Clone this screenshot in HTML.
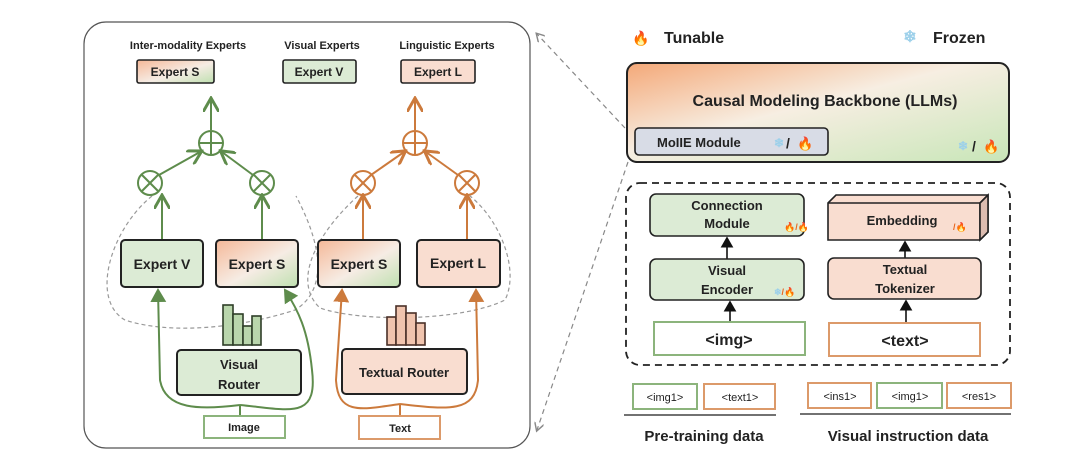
<!DOCTYPE html>
<html><head><meta charset="utf-8"><style>
html,body{margin:0;padding:0;background:#fff;width:1080px;height:460px;overflow:hidden}
svg text{font-family:"Liberation Sans",sans-serif;font-weight:bold;fill:#222}
</style></head><body>
<svg width="1080" height="460" viewBox="0 0 1080 460" xmlns="http://www.w3.org/2000/svg">
<defs>
<linearGradient id="gS" x1="0" y1="0" x2="1" y2="1"><stop offset="0" stop-color="#f5b898"/><stop offset="0.55" stop-color="#f6ece4"/><stop offset="1" stop-color="#bfe0b0"/></linearGradient>
<linearGradient id="gB" x1="0" y1="0" x2="1" y2="1"><stop offset="0" stop-color="#f4a878"/><stop offset="0.45" stop-color="#f7eee2"/><stop offset="1" stop-color="#c8e6b8"/></linearGradient>
<marker id="aG" markerWidth="8" markerHeight="8" refX="6" refY="4" orient="auto"><path d="M0,0 L7,4 L0,8" fill="none" stroke="#5e8c4c" stroke-width="1.5"/></marker>
<marker id="aO" markerWidth="8" markerHeight="8" refX="6" refY="4" orient="auto"><path d="M0,0 L7,4 L0,8" fill="none" stroke="#cc7a3c" stroke-width="1.5"/></marker>
<marker id="tG" markerWidth="8" markerHeight="8" refX="6" refY="4" orient="auto"><path d="M0,0 L7,4 L0,8 z" fill="#5e8c4c"/></marker>
<marker id="tO" markerWidth="8" markerHeight="8" refX="6" refY="4" orient="auto"><path d="M0,0 L7,4 L0,8 z" fill="#cc7a3c"/></marker>
<marker id="tK" markerWidth="8" markerHeight="8" refX="6" refY="4" orient="auto"><path d="M0,0 L7,4 L0,8 z" fill="#111"/></marker>
<marker id="aD" markerWidth="8" markerHeight="8" refX="6" refY="4" orient="auto"><path d="M0,0 L7,4 L0,8" fill="none" stroke="#888" stroke-width="1.2"/></marker>
</defs>

<!-- left panel -->
<rect x="84" y="22" width="446" height="426" rx="22" fill="#fff" stroke="#555" stroke-width="1.2"/>
<g font-size="11" text-anchor="middle">
<text x="188" y="49">Inter-modality Experts</text>
<text x="322" y="49">Visual Experts</text>
<text x="447" y="49">Linguistic Experts</text>
</g>
<rect x="137" y="60" width="77" height="23" rx="2" fill="url(#gS)" stroke="#222" stroke-width="1.6"/>
<rect x="283" y="60" width="73" height="23" rx="2" fill="#dcebd5" stroke="#222" stroke-width="1.6"/>
<rect x="401" y="60" width="74" height="23" rx="2" fill="#f9ddd0" stroke="#222" stroke-width="1.6"/>
<g font-size="12" text-anchor="middle">
<text x="175" y="76">Expert S</text><text x="319" y="76">Expert V</text><text x="438" y="76">Expert L</text>
</g>

<!-- dashed loops -->
<path d="M152 196 C110 230,90 300,125 320 C170 335,240 328,295 310 C320 295,330 260,296 196" fill="none" stroke="#999" stroke-width="1.2" stroke-dasharray="4,3"/>
<path d="M358 196 C320 230,290 280,320 308 C360 322,460 322,505 300 C520 270,500 220,470 196" fill="none" stroke="#999" stroke-width="1.2" stroke-dasharray="4,3"/>

<!-- green tree -->
<g stroke="#5e8c4c" stroke-width="2" fill="none">
<line x1="211" y1="130" x2="211" y2="100" marker-end="url(#aG)"/>
<circle cx="211" cy="143" r="12" fill="#fff"/><line x1="199" y1="143" x2="223" y2="143"/><line x1="211" y1="131" x2="211" y2="155"/>
<line x1="159" y1="175" x2="200" y2="152" marker-end="url(#aG)"/>
<line x1="253" y1="175" x2="222" y2="152" marker-end="url(#aG)"/>
<circle cx="150" cy="183" r="12" fill="#fff"/><line x1="142" y1="175" x2="158" y2="191"/><line x1="158" y1="175" x2="142" y2="191"/>
<circle cx="262" cy="183" r="12" fill="#fff"/><line x1="254" y1="175" x2="270" y2="191"/><line x1="270" y1="175" x2="254" y2="191"/>
<line x1="162" y1="240" x2="162" y2="197" marker-end="url(#aG)"/>
<line x1="262" y1="240" x2="262" y2="197" marker-end="url(#aG)"/>
<path d="M240 405 L240 418"/>
<path d="M240 405 C200 410,165 410,160 380 L158 290" marker-end="url(#tG)"/>
<path d="M240 405 C290 410,318 420,312 370 C308 330,298 310,285 290" marker-end="url(#tG)"/>
</g>
<!-- orange tree -->
<g stroke="#cc7a3c" stroke-width="2" fill="none">
<line x1="415" y1="130" x2="415" y2="100" marker-end="url(#aO)"/>
<circle cx="415" cy="143" r="12" fill="#fff"/><line x1="403" y1="143" x2="427" y2="143"/><line x1="415" y1="131" x2="415" y2="155"/>
<line x1="371" y1="175" x2="404" y2="152" marker-end="url(#aO)"/>
<line x1="458" y1="175" x2="426" y2="152" marker-end="url(#aO)"/>
<circle cx="363" cy="183" r="12" fill="#fff"/><line x1="355" y1="175" x2="371" y2="191"/><line x1="371" y1="175" x2="355" y2="191"/>
<circle cx="467" cy="183" r="12" fill="#fff"/><line x1="459" y1="175" x2="475" y2="191"/><line x1="475" y1="175" x2="459" y2="191"/>
<line x1="363" y1="240" x2="363" y2="197" marker-end="url(#aO)"/>
<line x1="467" y1="240" x2="467" y2="197" marker-end="url(#aO)"/>
<path d="M400 404 L400 420"/>
<path d="M400 404 C360 410,338 415,336 380 L342 290" marker-end="url(#tO)"/>
<path d="M400 404 C450 410,475 412,478 380 L476 290" marker-end="url(#tO)"/>
</g>

<!-- expert boxes -->
<rect x="121" y="240" width="82" height="47" rx="4" fill="#dcebd5" stroke="#222" stroke-width="2"/>
<rect x="216" y="240" width="82" height="47" rx="4" fill="url(#gS)" stroke="#222" stroke-width="2"/>
<rect x="318" y="240" width="82" height="47" rx="4" fill="url(#gS)" stroke="#222" stroke-width="2"/>
<rect x="417" y="240" width="83" height="47" rx="4" fill="#f9ddd0" stroke="#222" stroke-width="2"/>
<g font-size="14" text-anchor="middle">
<text x="162" y="269">Expert V</text><text x="257" y="269">Expert S</text><text x="359" y="269">Expert S</text><text x="458" y="268">Expert L</text>
</g>

<!-- bars -->
<g fill="#b9d6ac" stroke="#2e3e28" stroke-width="1.6">
<rect x="223" y="305" width="10" height="40"/><rect x="233" y="314" width="10" height="31"/><rect x="243" y="326" width="9" height="19"/><rect x="252" y="316" width="9" height="29"/>
</g>
<g fill="#f0c4ae" stroke="#4a3028" stroke-width="1.6">
<rect x="387" y="317" width="9" height="28"/><rect x="396" y="306" width="10" height="39"/><rect x="406" y="313" width="10" height="32"/><rect x="416" y="323" width="9" height="22"/>
</g>
<rect x="177" y="350" width="124" height="45" rx="4" fill="#dcebd5" stroke="#222" stroke-width="2"/>
<rect x="342" y="349" width="125" height="45" rx="4" fill="#f9ddd0" stroke="#222" stroke-width="2"/>
<g font-size="13" text-anchor="middle">
<text x="239" y="369">Visual</text><text x="239" y="389">Router</text>
<text x="404" y="377">Textual Router</text>
</g>
<rect x="204" y="416" width="81" height="22" fill="#fff" stroke="#8cb47c" stroke-width="2"/>
<rect x="359" y="416" width="81" height="23" fill="#fff" stroke="#dc9a6a" stroke-width="2"/>
<g font-size="11" text-anchor="middle"><text x="244" y="431">Image</text><text x="400" y="432">Text</text></g>

<!-- dashed connectors -->
<line x1="625" y1="128" x2="537" y2="34" stroke="#888" stroke-width="1.2" stroke-dasharray="5,4" marker-end="url(#aD)"/>
<line x1="628" y1="162" x2="537" y2="430" stroke="#888" stroke-width="1.2" stroke-dasharray="5,4" marker-end="url(#aD)"/>

<!-- legend -->
<text x="641" y="43" font-size="14" text-anchor="middle" style="fill:#e8641e">🔥</text>
<text x="664" y="43" font-size="16">Tunable</text>
<text x="910" y="42" font-size="16" text-anchor="middle" style="fill:#9cd0ea">❄</text>
<text x="933" y="43" font-size="16">Frozen</text>

<!-- backbone -->
<rect x="627" y="63" width="382" height="99" rx="10" fill="url(#gB)" stroke="#222" stroke-width="2"/>
<text x="825" y="106" font-size="16" text-anchor="middle">Causal Modeling Backbone (LLMs)</text>
<rect x="635" y="128" width="193" height="27" rx="4" fill="#d8dce6" stroke="#222" stroke-width="1.6"/>
<text x="657" y="147" font-size="13">MoIIE Module</text>
<text x="774" y="147" font-size="12" style="fill:#9cd0ea">❄</text>
<text x="786" y="148" font-size="14">/</text>
<text x="797" y="148" font-size="13" style="fill:#e8641e">🔥</text>
<text x="958" y="150" font-size="12" style="fill:#9cd0ea">❄</text>
<text x="972" y="151" font-size="14">/</text>
<text x="983" y="151" font-size="13" style="fill:#e8641e">🔥</text>

<!-- dashed group -->
<rect x="626" y="183" width="384" height="182" rx="14" fill="none" stroke="#222" stroke-width="1.8" stroke-dasharray="7,5"/>
<rect x="650" y="194" width="154" height="42" rx="6" fill="#dcebd5" stroke="#222" stroke-width="1.6"/>
<text x="727" y="210" font-size="13" text-anchor="middle">Connection</text>
<text x="727" y="228" font-size="13" text-anchor="middle">Module</text>
<text x="784" y="230" font-size="9" style="fill:#e8641e">🔥/🔥</text>
<path d="M828 203 L836 195 L988 195 L988 232 L980 240 L828 240 Z" fill="#f9ddd0" stroke="#222" stroke-width="1.6"/>
<path d="M828 203 L980 203 L988 195 M980 203 L980 240" fill="none" stroke="#222" stroke-width="1.6"/>
<path d="M980 203 L988 195 L988 232 L980 240 Z" fill="#dcbcb0" stroke="#222" stroke-width="1.6"/>
<text x="902" y="225" font-size="13" text-anchor="middle">Embedding</text>
<text x="953" y="230" font-size="9" style="fill:#e8641e">/🔥</text>
<line x1="727" y1="259" x2="727" y2="238" stroke="#111" stroke-width="1.6" marker-end="url(#tK)"/>
<line x1="905" y1="258" x2="905" y2="242" stroke="#111" stroke-width="1.6" marker-end="url(#tK)"/>
<rect x="650" y="259" width="154" height="41" rx="6" fill="#dcebd5" stroke="#222" stroke-width="1.6"/>
<text x="727" y="275" font-size="13" text-anchor="middle">Visual</text>
<text x="727" y="294" font-size="13" text-anchor="middle">Encoder</text>
<text x="774" y="295" font-size="9" style="fill:#9cd0ea">❄<tspan style="fill:#e8641e">/🔥</tspan></text>
<rect x="828" y="258" width="153" height="41" rx="6" fill="#f9ddd0" stroke="#222" stroke-width="1.6"/>
<text x="905" y="274" font-size="13" text-anchor="middle">Textual</text>
<text x="905" y="293" font-size="13" text-anchor="middle">Tokenizer</text>
<line x1="730" y1="322" x2="730" y2="302" stroke="#111" stroke-width="1.6" marker-end="url(#tK)"/>
<line x1="906" y1="322" x2="906" y2="301" stroke="#111" stroke-width="1.6" marker-end="url(#tK)"/>
<rect x="654" y="322" width="151" height="33" fill="#fff" stroke="#8cb47c" stroke-width="2"/>
<rect x="829" y="323" width="151" height="33" fill="#fff" stroke="#dc9a6a" stroke-width="2"/>
<text x="729" y="345" font-size="16" text-anchor="middle">&lt;img&gt;</text>
<text x="905" y="346" font-size="16" text-anchor="middle">&lt;text&gt;</text>

<!-- data -->
<rect x="633" y="384" width="64" height="25" fill="#fff" stroke="#8cb47c" stroke-width="2"/>
<rect x="704" y="384" width="71" height="25" fill="#fff" stroke="#dc9a6a" stroke-width="2"/>
<rect x="808" y="383" width="63" height="25" fill="#fff" stroke="#dc9a6a" stroke-width="2"/>
<rect x="877" y="383" width="65" height="25" fill="#fff" stroke="#8cb47c" stroke-width="2"/>
<rect x="947" y="383" width="64" height="25" fill="#fff" stroke="#dc9a6a" stroke-width="2"/>
<g font-size="11" text-anchor="middle" font-weight="normal">
<text x="665" y="401" style="font-weight:normal">&lt;img1&gt;</text>
<text x="740" y="401" style="font-weight:normal">&lt;text1&gt;</text>
<text x="840" y="400" style="font-weight:normal">&lt;ins1&gt;</text>
<text x="910" y="400" style="font-weight:normal">&lt;img1&gt;</text>
<text x="979" y="400" style="font-weight:normal">&lt;res1&gt;</text>
</g>
<line x1="624" y1="415" x2="776" y2="415" stroke="#444" stroke-width="1.5"/>
<line x1="800" y1="414" x2="1011" y2="414" stroke="#444" stroke-width="1.5"/>
<text x="704" y="441" font-size="15" text-anchor="middle">Pre-training data</text>
<text x="908" y="441" font-size="15" text-anchor="middle">Visual instruction data</text>
</svg>
</body></html>
